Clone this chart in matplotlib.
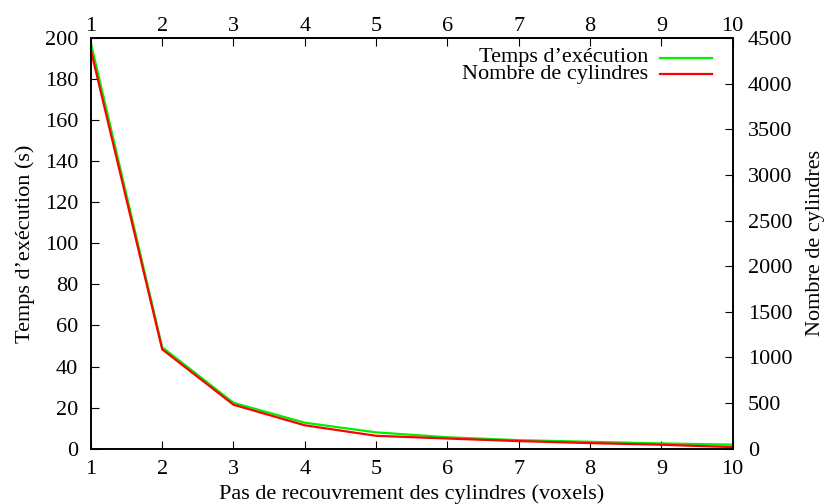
import matplotlib.pyplot as plt
import numpy as np

plt.rcParams['font.family'] = ['Liberation Serif', 'DejaVu Serif']
plt.rcParams['font.size'] = 16

pas = [1, 2, 3, 4, 5, 6, 7, 8, 9, 10]
temps = [197.7, 49.4, 22.3, 12.6, 7.9, 5.5, 4.1, 3.3, 2.5, 1.9]
cylindres = [4370, 1089, 481, 255, 140, 110, 82, 60, 42, 16]

fig = plt.figure(figsize=(8.26, 5.04), dpi=100)
ax = fig.add_axes([0.110, 0.110, 0.777, 0.814])
ax2 = ax.twinx()

ax.plot(pas, temps, color='#00ee00', lw=1.6)
ax2.plot(pas, cylindres, color='#ff0000', lw=1.6)

ax.set_xlim(1, 10)
ax.set_ylim(0, 200)
ax2.set_ylim(0, 4500)
ax.set_xticks(pas)
ax.set_yticks(np.arange(0, 201, 20))
ax2.set_yticks(np.arange(0, 4501, 500))

ax.tick_params(axis='x', direction='in', top=True, labeltop=False, length=6, pad=8)
ax.tick_params(axis='y', direction='in', right=False, length=6, pad=9)
ax2.tick_params(axis='y', direction='in', length=6, pad=11)

# axe du haut : memes graduations, etiquettes plus proches
top = ax.secondary_xaxis('top')
top.set_xticks(pas)
top.tick_params(direction='in', length=0, pad=2)

ax.set_xlabel('Pas de recouvrement des cylindres (voxels)', labelpad=4)
ax.set_ylabel('Temps d’exécution (s)', labelpad=7)
ax2.set_ylabel('Nombre de cylindres', labelpad=10)

# legende a la gnuplot : texte aligne a droite, trait a droite
ax.text(0.868, 0.953, 'Temps d’exécution', transform=ax.transAxes,
        ha='right', va='center')
ax.plot([0.887, 0.968], [0.953, 0.953], color='#00ee00', lw=1.6,
        transform=ax.transAxes)
ax.text(0.868, 0.912, 'Nombre de cylindres', transform=ax.transAxes,
        ha='right', va='center')
ax.plot([0.887, 0.968], [0.912, 0.912], color='#ff0000', lw=1.6,
        transform=ax.transAxes)

for a in (ax, ax2, top):
    for s in a.spines.values():
        s.set_linewidth(1.2)

fig.savefig('out.png', dpi=100)
